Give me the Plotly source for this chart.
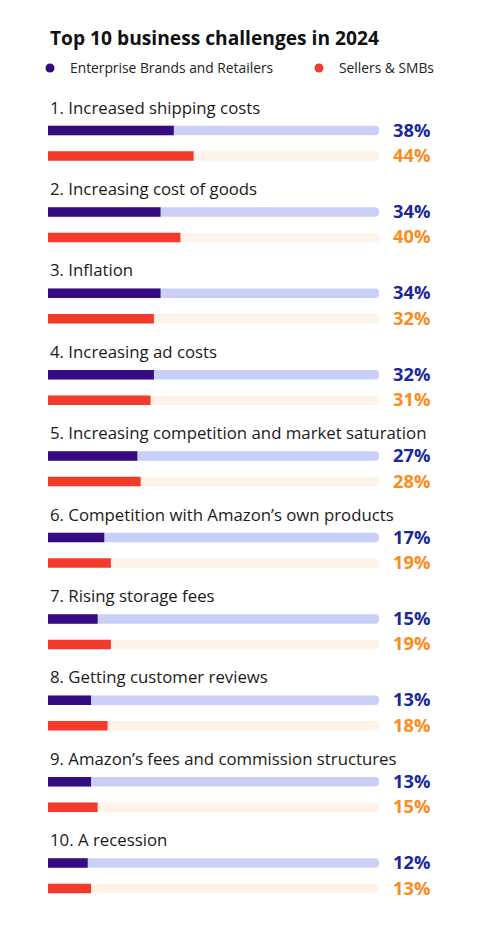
import plotly.graph_objects as go

title = "Top 10 business challenges in 2024"
series_names = ["Enterprise Brands and Retailers", "Sellers & SMBs"]
categories = [
    "1. Increased shipping costs",
    "2. Increasing cost of goods",
    "3. Inflation",
    "4. Increasing ad costs",
    "5. Increasing competition and market saturation",
    "6. Competition with Amazon\u2019s own products",
    "7. Rising storage fees",
    "8. Getting customer reviews",
    "9. Amazon\u2019s fees and commission structures",
    "10. A recession",
]
enterprise = [38, 34, 34, 32, 27, 17, 15, 13, 13, 12]
sellers = [44, 40, 32, 31, 28, 19, 19, 18, 15, 13]
track_max = 100

W, H = 486, 926
OFF = 8                   # page body margin offset
FONT = "Open Sans"
X0, X1 = 48 - OFF, 379 - OFF
ppu = (X1 - X0) / track_max
STEP = 81.4
LABEL_Y0, ENT_Y0, SEL_Y0 = 107 - OFF, 130.5 - OFF, 156 - OFF

n = len(categories)
label_y = [LABEL_Y0 + STEP * i for i in range(n)]
ent_y = [ENT_Y0 + STEP * i for i in range(n)]
sel_y = [SEL_Y0 + STEP * i for i in range(n)]

ENT_DARK = "#360B80"
ENT_TRACK = "#C9CFF6"
SEL_RED = "#F23B2B"
SEL_TRACK = "#FEF3E9"
ENT_TXT = "#1A279E"
SEL_TXT = "#FD8A1A"

fig = go.Figure()
bw = 9.5
common = dict(orientation="h", showlegend=False, hoverinfo="skip",
              marker_line_width=0, width=bw)
fig.add_trace(go.Bar(y=ent_y, x=[track_max] * n, marker=dict(color=ENT_TRACK, cornerradius="50%"), **common))
fig.add_trace(go.Bar(y=sel_y, x=[track_max] * n, marker=dict(color=SEL_TRACK, cornerradius="50%"), **common))
fig.add_trace(go.Bar(y=ent_y, x=enterprise, marker=dict(color=ENT_DARK, cornerradius="50%"), **common))
fig.add_trace(go.Bar(y=sel_y, x=sellers, marker=dict(color=SEL_RED, cornerradius="50%"), **common))

# legend dummies
fig.add_trace(go.Scatter(x=[None], y=[None], mode="markers", name=series_names[0], legend="legend",
                         marker=dict(color=ENT_DARK, size=9, symbol="circle")))
fig.add_trace(go.Scatter(x=[None], y=[None], mode="markers", name=series_names[1], legend="legend2",
                         marker=dict(color=SEL_RED, size=9, symbol="circle")))

ann = []
ann.append(dict(text="<b>" + title + "</b>", x=(48 - OFF) / W, xref="paper", y=37 - OFF, yref="y",
                xanchor="left", yanchor="middle", showarrow=False,
                font=dict(family=FONT, size=19.2, color="#111111")))
for i in range(n):
    ann.append(dict(text=categories[i], x=(48 - OFF) / W, xref="paper", y=label_y[i], yref="y",
                    xanchor="left", yanchor="middle", showarrow=False,
                    font=dict(family=FONT, size=16.8, color="#1a1a1a")))
    ann.append(dict(text="<b>%d%%</b>" % enterprise[i], x=(432 - OFF) / W, xref="paper", y=ent_y[i] - 1.5,
                    yref="y", xanchor="right", yanchor="middle", showarrow=False,
                    font=dict(family=FONT, size=18.3, color=ENT_TXT)))
    ann.append(dict(text="<b>%d%%</b>" % sellers[i], x=(432 - OFF) / W, xref="paper", y=sel_y[i] - 1.5,
                    yref="y", xanchor="right", yanchor="middle", showarrow=False,
                    font=dict(family=FONT, size=18.3, color=SEL_TXT)))

leg_common = dict(orientation="h", yanchor="middle", y=1 - (68 - OFF) / H, xanchor="left",
                  bgcolor="rgba(0,0,0,0)", font=dict(family=FONT, size=13.8, color="#222222"),
                  itemclick=False, itemdoubleclick=False)
fig.update_layout(
    width=W, height=H,
    margin=dict(l=0, r=0, t=0, b=0),
    paper_bgcolor="white", plot_bgcolor="white",
    barmode="overlay",
    xaxis=dict(range=[-X0 / ppu, (W - X0) / ppu], visible=False, fixedrange=True),
    yaxis=dict(range=[H, 0], visible=False, fixedrange=True),
    annotations=ann,
    showlegend=True,
    legend=dict(x=(30 - OFF) / W, **leg_common),
    legend2=dict(x=(299 - OFF) / W, **leg_common),
)

fig.write_html("out.html")
